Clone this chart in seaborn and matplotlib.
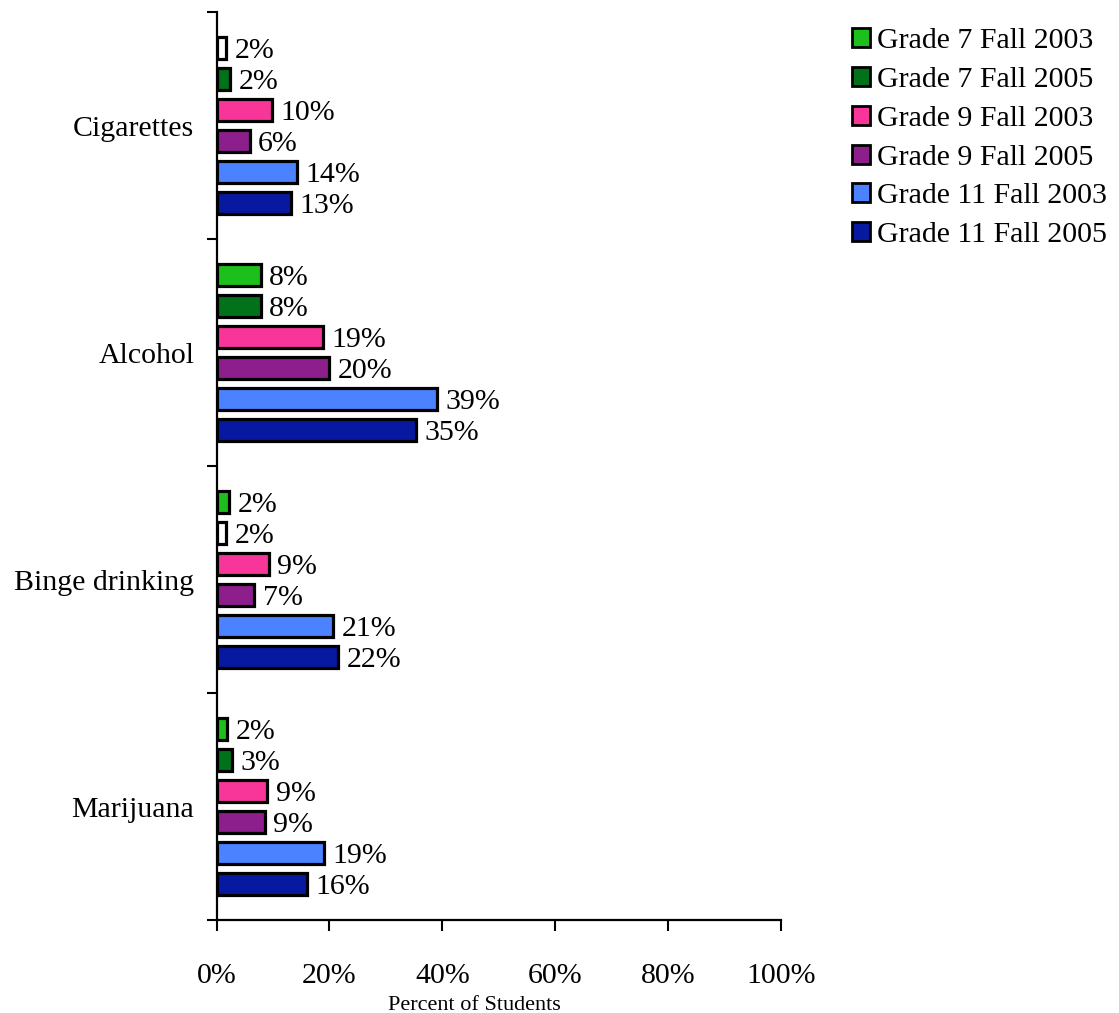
import matplotlib
matplotlib.use("Agg")
import matplotlib.pyplot as plt
from matplotlib.patches import Patch
import seaborn as sns
import pandas as pd

categories = ["Cigarettes", "Alcohol", "Binge drinking", "Marijuana"]
series = ["Grade 7 Fall 2003", "Grade 7 Fall 2005", "Grade 9 Fall 2003",
          "Grade 9 Fall 2005", "Grade 11 Fall 2003", "Grade 11 Fall 2005"]
grade7_2003 = [1.7, 7.8, 2.3, 1.9]
grade7_2005 = [2.4, 7.8, 1.7, 2.7]
grade9_2003 = [9.8, 18.9, 9.3, 9.0]
grade9_2005 = [5.9, 20.0, 6.7, 8.6]
grade11_2003 = [14.3, 39.0, 20.7, 19.1]
grade11_2005 = [13.2, 35.3, 21.6, 16.0]
colors = ["#1DBF1D", "#02721A", "#F8369A", "#8C1F8C", "#4A82FF", "#0719A0"]
white_bars = [("Cigarettes", "Grade 7 Fall 2003"), ("Binge drinking", "Grade 7 Fall 2005")]
xticks = [0, 20, 40, 60, 80, 100]

all_vals = [grade7_2003, grade7_2005, grade9_2003, grade9_2005, grade11_2003, grade11_2005]
rows = []
for s, vals in zip(series, all_vals):
    for c, v in zip(categories, vals):
        rows.append({"category": c, "series": s, "value": v})
df = pd.DataFrame(rows)

sns.set_theme(style="white")
plt.rcParams["font.family"] = ["Liberation Serif", "DejaVu Serif"]
for k in ["text.color", "axes.labelcolor", "xtick.color", "ytick.color"]:
    plt.rcParams[k] = "black"

W, H = 1119, 1013
fig = plt.figure(figsize=(W / 100, H / 100), dpi=100)
left, right, top, bottom = 216.5, 781, 12, 920
ax = fig.add_axes([left / W, 1 - bottom / H, (right - left) / W, (bottom - top) / H])

sns.barplot(data=df, x="value", y="category", hue="series", order=categories,
            hue_order=series, palette=colors, saturation=1, width=0.816, gap=0.28,
            edgecolor="black", linewidth=2.3, orient="h", ax=ax, legend=False)

fs = 21.5
for s, cont, vals in zip(series, ax.containers, all_vals):
    for c, bar, v in zip(categories, cont, vals):
        if (c, s) in white_bars:
            bar.set_facecolor("white")
        ax.annotate(f"{v:.0f}%", xy=(bar.get_width(), bar.get_y() + bar.get_height() / 2),
                    xytext=(6, -7.3), textcoords="offset points", ha="left",
                    va="baseline", fontsize=fs, color="black")

ax.set_xlim(0, 100)
ax.set_ylim(3.5, -0.5)
ax.set_xticks(xticks)
ax.set_xticklabels([f"{t}%" for t in xticks], fontsize=fs)
ax.set_yticks(range(len(categories)))
ax.set_yticklabels(categories, fontsize=fs)
ax.set_yticks([-0.5, 0.5, 1.5, 2.5, 3.5], minor=True)
ax.tick_params(axis="y", which="major", length=0, pad=16)
ax.tick_params(axis="y", which="minor", length=7.5, width=1.5, direction="out", color="black", left=True)
ax.tick_params(axis="x", which="major", length=8, width=1.5, direction="out", color="black",
               bottom=True, pad=23)
ax.set_xlabel("")
ax.set_ylabel("")
fig.text(474 / W, 1 - 1005 / H, "Percent of Students", fontsize=16, ha="center", va="center")
for sp in ["top", "right"]:
    ax.spines[sp].set_visible(False)
for sp in ["left", "bottom"]:
    ax.spines[sp].set_color("black")
    ax.spines[sp].set_linewidth(1.6)

handles = [Patch(facecolor=col, edgecolor="black", linewidth=2) for col in colors]
fig.legend(handles, series, loc="upper left", bbox_to_anchor=(852 / W, 1 - 28 / H),
           frameon=False, fontsize=fs, handlelength=0.6, handleheight=0.6,
           handletextpad=0.25, labelspacing=0.43, borderpad=0, borderaxespad=0)

fig.savefig("out.png", dpi=100)
